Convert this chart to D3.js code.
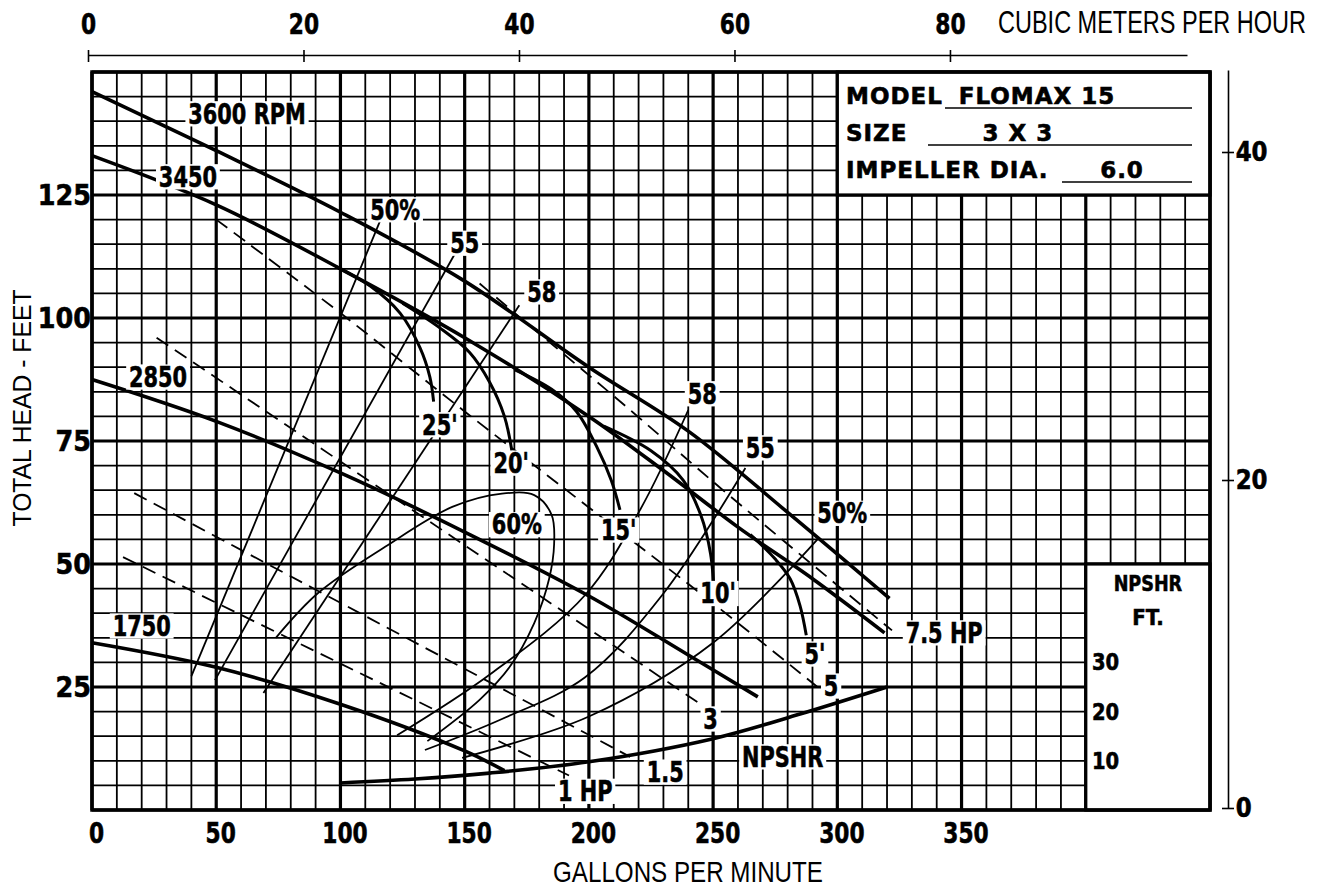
<!DOCTYPE html>
<html>
<head>
<meta charset="utf-8">
<script src="https://cdn.jsdelivr.net/npm/d3@7"></script>
<style>
body { margin: 0; background: #fff; }
svg { display: block; }
.bold { font-family: "DejaVu Sans", sans-serif; font-weight: bold; fill: #000; stroke: #000; stroke-width: 0.6; }
.narrow { font-family: "Liberation Sans", Arial, sans-serif; fill: #000; }
</style>
</head>
<body>
<div class="chart"></div>
<script>
// ______________________ values ______________________

const gpmTicks = [0, 50, 100, 150, 200, 250, 300, 350];
const headTicks = [25, 50, 75, 100, 125];
const cmhTicks = [0, 20, 40, 60, 80];
const meterTicks = [0, 20, 40];
const npshTicks = [10, 20, 30];

// head curves [gpm, feet]
const rpm3600 = [[0, 146], [50, 134], [100, 121.5], [150, 107.5], [200, 90], [240, 77], [280, 60.5], [321, 43]];
const rpm3450 = [[0, 133], [50, 123], [100, 110], [150, 96], [200, 80], [230, 69], [260, 57.5], [290, 47], [319, 36]];
const rpm2850 = [[0, 87.5], [50, 79], [100, 68.5], [150, 56.5], [200, 43.5], [240, 31.5], [268, 23]];
const rpm1750 = [[0, 34], [50, 29], [100, 21.5], [150, 12], [166, 8]];

// NPSHR curve [gpm, feet]
const npshr = [[100, 5.5], [130, 6.3], [160, 7.5], [200, 9.8], [250, 14.5], [285, 19.5], [320, 25]];

// efficiency lines [gpm, feet]
const eff50Left = [[40, 27.2], [117, 121]];
const eff55Left = [[49.5, 26.4], [146, 113]];
const eff58Left = [[69, 23.8], [172, 102.6]];
const eff58Right = [[122.8, 15.2], [160, 27.5], [198.5, 43.7], [220.6, 61], [240, 81.3]];
const eff55Right = [[134, 12.2], [165, 18.5], [198.5, 27], [230, 44], [263, 69.5]];
const eff50Right = [[149, 10.6], [200, 19], [250, 34], [292, 55]];
const eff60 = [[74, 35], [91, 44.1], [118, 53.5], [145, 61.6], [165, 64.3], [178, 64], [185, 60], [186, 54],
    [184, 47], [178, 38], [168, 29], [156, 22.4], [135, 14]];

// NPSH arcs [gpm, feet]
const npsh25 = [[98, 110.5], [112, 106.5], [124, 101], [132, 94], [136, 88], [137.5, 83]];
const npsh20 = [[125, 103], [140, 98], [152, 93], [160, 87], [166, 80], [169, 73]];
const npsh15 = [[170, 89.5], [185, 85.5], [195, 81], [203, 74], [209, 67], [212.5, 61]];
const npsh10 = [[206, 78], [225, 73], [238, 67], [245, 60], [249, 52], [250.5, 43]];
const npsh5 = [[265, 56], [275, 51], [281, 47], [285, 41.5], [287.5, 35.5]];

// horsepower lines [gpm, feet]
const hp75 = [[156, 107], [182, 96], [218, 80.7], [254, 65], [322, 36.5]];
const hp5 = [[50, 120], [100, 101], [150, 81], [200, 61.5], [250, 42], [292, 25]];
const hp3 = [[26, 96], [245, 21.5]];
const hp15 = [[17, 64.4], [216.6, 10.8]];
const hp1 = [[12.5, 51.4], [192, 7]];

// [text, gpm, feet]
const curveLabels = [
    ["3600 RPM", 62.4, 141.5], ["3450", 38.6, 128.7], ["2850", 26.6, 88], ["1750", 20, 37.4],
    ["50%", 122, 122], ["55", 150, 115.2], ["58", 181, 105.3],
    ["25'", 140, 78.3], ["20'", 168.7, 70.5], ["60%", 171, 58], ["15'", 212, 56.9],
    ["58", 245.6, 84.6], ["55", 269, 73.6], ["50%", 302, 60.3],
    ["10'", 252, 44], ["5'", 291, 31.7], ["7.5 HP", 343, 36], ["5", 297.5, 25.2],
    ["3", 249, 18.5], ["1.5", 230.7, 7.7], ["NPSHR", 278, 10.8], ["1 HP", 198.5, 3.8]
];

const modelInfo = [["MODEL", "FLOMAX 15"], ["SIZE", "3 X 3"], ["IMPELLER DIA.", "6.0"]];

// ______________________________ drawing ______________________________

const width = 1320, height = 892;

const svg = d3.select(".chart")
    .append("svg")
    .attr("width", width)
    .attr("height", height);

const x = d3.scaleLinear().domain([0, 450]).range([92, 1210]);
const y = d3.scaleLinear().domain([0, 150]).range([810, 72]);
const xTop = d3.scaleLinear().domain([0, 102]).range([88, 1187]);
const yRight = d3.scaleLinear().domain([0, 45]).range([808, 70]);

// grid
const grid = svg.append("g").attr("stroke", "#000");
grid.selectAll(".vline")
    .data(d3.range(0, 451, 10))
    .join("line")
        .attr("x1", d => x(d)).attr("x2", d => x(d))
        .attr("y1", y(0)).attr("y2", y(150))
        .attr("stroke-width", d => d % 50 === 0 ? 3.2 : 1.8);
grid.selectAll(".hline")
    .data(d3.range(0, 151, 5))
    .join("line")
        .attr("y1", d => y(d)).attr("y2", d => y(d))
        .attr("x1", x(0)).attr("x2", x(450))
        .attr("stroke-width", d => d % 25 === 0 ? 3.2 : 1.8);

// title box and NPSHR box cover the grid
svg.append("rect")
    .attr("x", x(300)).attr("y", y(150))
    .attr("width", x(450) - x(300)).attr("height", y(125) - y(150))
    .attr("fill", "#fff").attr("stroke", "#000").attr("stroke-width", 3.2);
svg.append("rect")
    .attr("x", x(400)).attr("y", y(50))
    .attr("width", x(450) - x(400)).attr("height", y(0) - y(50))
    .attr("fill", "#fff").attr("stroke", "#000").attr("stroke-width", 3.2);

// frame
svg.append("rect")
    .attr("x", x(0)).attr("y", y(150))
    .attr("width", x(450) - x(0)).attr("height", y(0) - y(150))
    .attr("fill", "none").attr("stroke", "#000").attr("stroke-width", 3.5);

const line = d3.line()
    .x(d => x(d[0]))
    .y(d => y(d[1]))
    .curve(d3.curveCatmullRom.alpha(0.5));

function draw(data, w, dash) {
    svg.append("path")
        .datum(data)
        .attr("d", line)
        .attr("fill", "none")
        .attr("stroke", "#000")
        .attr("stroke-width", w)
        .attr("stroke-dasharray", dash || null)
        .attr("stroke-linecap", "butt");
}

[eff50Left, eff55Left, eff58Left, eff58Right, eff55Right, eff50Right, eff60].forEach(d => draw(d, 1.8));
[hp75, hp5, hp3, hp15, hp1].forEach(d => draw(d, 1.8, "14 8"));
[npsh25, npsh20, npsh15, npsh10, npsh5].forEach(d => draw(d, 3));
[rpm3600, rpm3450, rpm2850, rpm1750].forEach(d => draw(d, 3.6));
draw(npshr, 3.6);

// labels on the curves (tall condensed type), each knocking out the grid behind it
curveLabels.forEach(([t, gx, gy]) => {
    const g = svg.append("g")
        .attr("transform", `translate(${x(gx)},${y(gy)}) scale(0.72,1)`);
    const txt = g.append("text")
        .attr("class", "bold")
        .attr("text-anchor", "middle")
        .attr("dominant-baseline", "central")
        .attr("font-size", 29)
        .text(t);
    const b = txt.node().getBBox();
    g.insert("rect", "text")
        .attr("x", b.x - 4).attr("y", b.y + 4)
        .attr("width", b.width + 8).attr("height", b.height - 8)
        .attr("fill", "#fff");
});

// model box text
modelInfo.forEach(([k, v], i) => {
    const base = 104 + i * 37;
    svg.append("text").attr("class", "bold")
        .attr("x", 846).attr("y", base)
        .attr("font-size", 23)
        .attr("letter-spacing", 1)
        .text(k);
    const ux = i === 0 ? 945 : i === 1 ? 928 : 1062;
    svg.append("line")
        .attr("x1", ux).attr("x2", 1192)
        .attr("y1", base + 4).attr("y2", base + 4)
        .attr("stroke", "#000").attr("stroke-width", 1.6);
    const vx = i === 0 ? 1037 : i === 1 ? 1018 : 1122;
    svg.append("text").attr("class", "bold")
        .attr("x", vx).attr("y", base)
        .attr("text-anchor", "middle")
        .attr("font-size", 23)
        .attr("letter-spacing", 1)
        .text(v);
});

// NPSHR scale in the lower right box
svg.append("text").attr("class", "bold")
    .attr("transform", `translate(${x(425)},${y(46)}) scale(0.8,1)`)
    .attr("text-anchor", "middle").attr("dominant-baseline", "central")
    .attr("font-size", 22).text("NPSHR");
svg.append("text").attr("class", "bold")
    .attr("transform", `translate(${x(425)},${y(39)}) scale(0.9,1)`)
    .attr("text-anchor", "middle").attr("dominant-baseline", "central")
    .attr("font-size", 22).text("FT.");
svg.selectAll(".npshTick")
    .data(npshTicks)
    .join("text")
        .attr("class", "bold")
        .attr("transform", d => `translate(${x(402.5)},${y(d)}) scale(0.85,1)`)
        .attr("dominant-baseline", "central")
        .attr("font-size", 23)
        .text(d => d);

// bottom axis (gpm)
const xAxis = svg.append("g")
    .attr("transform", `translate(4,${y(0) + 23})`)
    .call(d3.axisBottom(x).tickValues(gpmTicks).tickSize(0));
xAxis.select(".domain").remove();
xAxis.selectAll("text").attr("class", "bold").attr("font-size", 29)
    .attr("dy", "0.36em").attr("y", 0).attr("transform", "scale(0.75,1)");

// left axis (feet)
const yAxis = svg.append("g")
    .attr("transform", `translate(${x(0) - 1},0)`)
    .call(d3.axisLeft(y).tickValues(headTicks).tickSize(0));
yAxis.select(".domain").remove();
yAxis.selectAll("text").attr("class", "bold").attr("font-size", 29)
    .attr("x", 0).attr("transform", "scale(0.88,1)");

// top axis (cubic meters per hour)
const topAxis = svg.append("g")
    .attr("transform", "translate(0,55)")
    .call(d3.axisTop(xTop).tickValues(cmhTicks).tickSizeOuter(0));
topAxis.select(".domain").attr("stroke-width", 1.6);
topAxis.selectAll(".tick line").attr("y1", -5).attr("y2", 7).attr("stroke-width", 1.6);
topAxis.selectAll("text").attr("class", "bold").attr("font-size", 29)
    .attr("y", -21).attr("dy", 0).attr("transform", "scale(0.75,1)");

// right axis (meters)
const rightAxis = svg.append("g")
    .attr("transform", "translate(1228,0)")
    .call(d3.axisRight(yRight).tickValues(meterTicks).tickSizeOuter(0));
rightAxis.select(".domain").attr("stroke-width", 1.6);
rightAxis.selectAll(".tick line").attr("x1", -6).attr("x2", 6).attr("stroke-width", 1.6);
rightAxis.selectAll("text").attr("class", "bold").attr("font-size", 27)
    .attr("x", 9).attr("transform", "scale(0.85,1)");

// axis titles, squeezed to the condensed width of the original lettering
function title(t, cx, cy, size, w, rot) {
    const el = svg.append("text").attr("class", "narrow")
        .attr("text-anchor", "middle")
        .attr("dominant-baseline", "central")
        .attr("font-size", size)
        .text(t);
    const sx = w / el.node().getComputedTextLength();
    el.attr("transform", `translate(${cx},${cy}) rotate(${rot}) scale(${sx},1)`);
}
title("GALLONS PER MINUTE", 688, 872, 30, 270, 0);
title("CUBIC METERS PER HOUR", 1152, 22, 31, 308, 0);
title("TOTAL HEAD - FEET", 22, 408, 26, 237, -90);
</script>
</body>
</html>
